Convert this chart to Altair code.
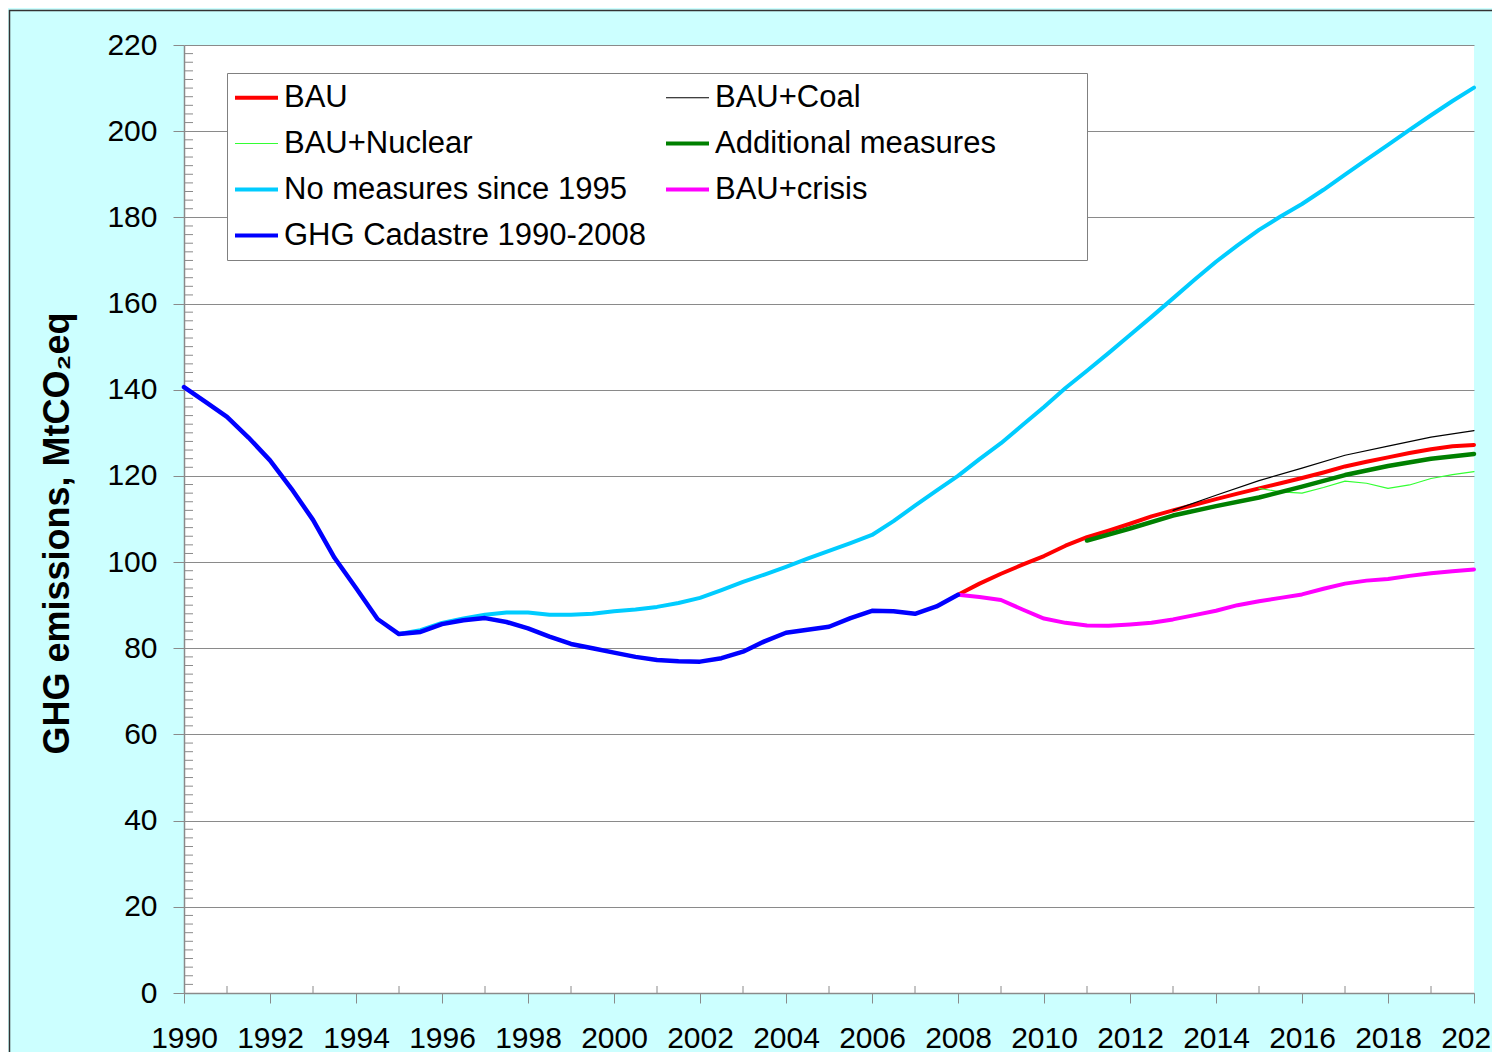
import altair as alt
import pandas as pd

# ---------------- data ----------------
series_names = [
    "BAU", "BAU+Coal", "BAU+Nuclear", "Additional measures",
    "No measures since 1995", "BAU+crisis", "GHG Cadastre 1990-2008",
]
series_colors = ["#FF0000", "#000000", "#33FF33", "#008000", "#00CCFF", "#FF00FF", "#0000FF"]
series_widths = [4, 1.2, 1.2, 4.5, 4, 4, 4.5]

years_cad = [1990 + 0.5 * i for i in range(37)]
vals_cad = [140.6, 137.2, 133.7, 128.9, 123.6, 117.0, 109.8, 101.0, 94.0, 86.8,
            83.3, 83.8, 85.6, 86.5, 87.0, 86.1, 84.6, 82.7, 81.0, 80.0,
            79.0, 78.0, 77.3, 77.0, 76.9, 77.7, 79.2, 81.6, 83.6, 84.3,
            85.0, 87.0, 88.7, 88.6, 88.0, 89.7, 92.4]

years_nomeas = [1995 + 0.5 * i for i in range(51)]
vals_nomeas = [83.3, 84.2, 85.9, 86.9, 87.8, 88.3, 88.3, 87.8, 87.8, 88.0,
               88.6, 89.0, 89.6, 90.5, 91.7, 93.5, 95.4, 97.1, 98.9, 100.8,
               102.6, 104.4, 106.3, 109.5, 113.1, 116.6, 120.0, 123.9, 127.6, 131.8,
               136.0, 140.4, 144.4, 148.5, 152.7, 156.9, 161.2, 165.5, 169.7, 173.5,
               177.1, 180.2, 183.1, 186.4, 189.9, 193.4, 196.8, 200.3, 203.7, 207.0,
               210.1]

years_bau = [2008 + 0.5 * i for i in range(25)]
vals_bau = [92.4, 95.0, 97.3, 99.4, 101.4, 103.8, 105.8, 107.3, 108.9, 110.6,
            112.0, 113.3, 114.6, 115.9, 117.1, 118.3, 119.5, 120.8, 122.2, 123.3,
            124.3, 125.3, 126.2, 126.9, 127.2]

years_crisis = [2008 + 0.5 * i for i in range(25)]
vals_crisis = [92.4, 91.9, 91.2, 89.0, 86.9, 85.9, 85.3, 85.2, 85.5, 85.9,
               86.7, 87.7, 88.7, 90.0, 90.9, 91.7, 92.5, 93.8, 95.0, 95.7,
               96.1, 96.8, 97.4, 97.9, 98.3]

years_add = [2011, 2012, 2013, 2014, 2015, 2016, 2017, 2018, 2019, 2020]
vals_add = [105.0, 107.8, 110.8, 113.0, 115.0, 117.5, 120.2, 122.3, 124.0, 125.1]

years_coal = [2013, 2014, 2015, 2016, 2017, 2018, 2019, 2020]
vals_coal = [112.0, 115.5, 118.9, 121.8, 124.8, 126.9, 129.0, 130.5]

years_nuc = [2015, 2015.5, 2016, 2016.5, 2017, 2017.5, 2018, 2018.5, 2019, 2019.5, 2020]
vals_nuc = [117.1, 116.3, 116.0, 117.3, 118.8, 118.3, 117.1, 117.9, 119.4, 120.3, 121.0]

x_labels = list(range(1990, 2021, 2))
y_labels = list(range(0, 221, 20))
y_minor = [v for v in range(0, 221, 2) if v % 20 != 0]
x_minor = list(range(1991, 2020, 2))

series_data = {
    "BAU": (years_bau, vals_bau),
    "BAU+Coal": (years_coal, vals_coal),
    "BAU+Nuclear": (years_nuc, vals_nuc),
    "Additional measures": (years_add, vals_add),
    "No measures since 1995": (years_nomeas, vals_nomeas),
    "BAU+crisis": (years_crisis, vals_crisis),
    "GHG Cadastre 1990-2008": (years_cad, vals_cad),
}

rows = []
for name in series_names:
    ys, vs = series_data[name]
    for yr, v in zip(ys, vs):
        rows.append({"series": name, "year": yr, "value": v})
df = pd.DataFrame(rows)

W, H = 1290, 948
FONT = "Liberation Sans"
GRAY = "#8a8a8a"

xscale = alt.Scale(domain=[1990, 2020], nice=False, zero=False)
yscale = alt.Scale(domain=[0, 220], nice=False, zero=True)

xaxis = alt.Axis(values=x_labels, format="d", title=None, grid=False,
                 tickSize=10, tickColor=GRAY, domainColor=GRAY, domainWidth=1.5,
                 labelFont=FONT, labelFontSize=30, labelColor="black",
                 labelPadding=20, labelFlush=False, labelOverlap=False)
yaxis = alt.Axis(values=y_labels, title="GHG emissions, MtCO\u2082eq", grid=True,
                 gridColor=GRAY, gridWidth=1.2,
                 tickSize=11, tickColor=GRAY, domainColor=GRAY, domainWidth=1.5,
                 labelFont=FONT, labelFontSize=30, labelColor="black", labelPadding=16,
                 titleFont=FONT, titleFontSize=36, titleFontWeight="bold", titleColor="black",
                 titleAngle=270, titleX=-127, titleY=488, titleAlign="center",
                 titleBaseline="middle")

thin_expr = "datum.value == 'BAU+Coal' || datum.value == 'BAU+Nuclear' ? 1.2 : 4"
legend = alt.Legend(
    title="\u00a0", titleOrient="right", titleFontSize=2, titlePadding=82,
    orient="none", legendX=43, legendY=28, columns=2, direction="horizontal",
    symbolType="stroke", symbolSize=43 * 43, symbolOffset=5,
    symbolStrokeWidth=alt.ExprRef(thin_expr),
    labelFont=FONT, labelFontSize=31,
    labelColor="black", labelLimit=0, labelOffset=12,
    rowPadding=14, columnPadding=12, padding=9,
    fillColor="white", strokeColor="#808080",
)

color_enc = alt.Color("series:N", scale=alt.Scale(domain=series_names, range=series_colors),
                      legend=legend)

base = alt.Chart(df)
layers = []
for name, sw in zip(series_names, series_widths):
    layer = base.transform_filter(alt.datum.series == name).mark_line(
        strokeJoin="round", strokeCap="round", strokeWidth=sw
    ).encode(
        x=alt.X("year:Q", scale=xscale, axis=xaxis),
        y=alt.Y("value:Q", scale=yscale, axis=yaxis),
        color=color_enc,
    )
    layers.append(layer)

# minor ticks
yminor = alt.Chart(pd.DataFrame({"v": y_minor})).mark_rule(color=GRAY, strokeWidth=1).encode(
    y=alt.Y("v:Q", scale=yscale, axis=yaxis), x=alt.value(0), x2=alt.value(9))
xminor = alt.Chart(pd.DataFrame({"yr": x_minor})).mark_rule(color=GRAY, strokeWidth=1).encode(
    x=alt.X("yr:Q", scale=xscale, axis=xaxis), y=alt.value(H - 7), y2=alt.value(H))

# outer frame of the chart area
frame = alt.Chart(pd.DataFrame({"a": [0]})).mark_rect(
    fillOpacity=0, stroke="#333333", strokeWidth=1.5
).encode(x=alt.value(-174.5), x2=alt.value(1600), y=alt.value(-34.5), y2=alt.value(1200))

chart = alt.layer(frame, yminor, xminor, *layers).properties(
    width=W, height=H,
    autosize=alt.AutoSizeParams(type="none"),
    padding={"left": 176, "top": 37, "right": 18, "bottom": 59},
    background="#CCFFFF",
).configure_view(fill="white", stroke=None)

chart.save("out.html", embed_options={"renderer": "svg", "actions": False})
